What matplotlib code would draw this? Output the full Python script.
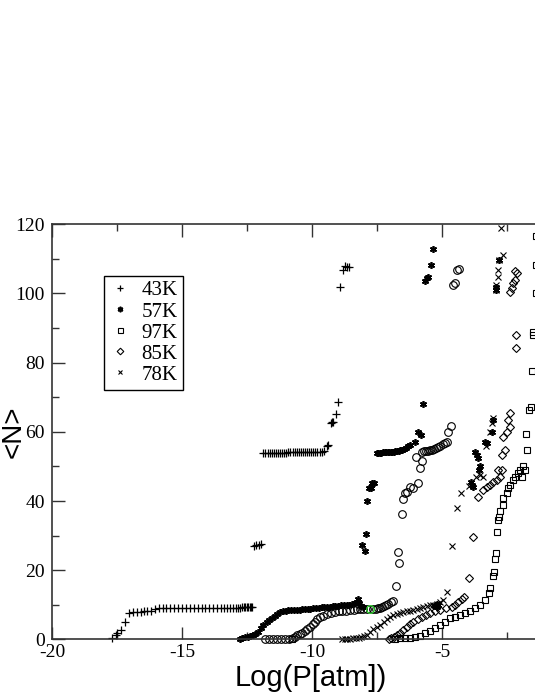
import matplotlib
matplotlib.use("Agg")
import matplotlib.pyplot as plt
from matplotlib.ticker import MultipleLocator

plt.rcParams["axes.unicode_minus"] = False
SERIF = "Liberation Serif"
SANS = "Liberation Sans"

# 43K (+)
x43 = [-17.70, -17.54, -17.49, -17.36, -17.18, -17.04, -16.90, -16.74, -16.59, -16.46, -16.33, -16.20, -16.05,
       -15.90, -15.75, -15.60, -15.45, -15.30, -15.15, -15.00, -14.85, -14.70, -14.55, -14.40, -14.25, -14.10,
       -13.95, -13.80, -13.65, -13.50, -13.38, -13.26, -13.14, -13.03, -12.93, -12.84, -12.76, -12.69, -12.62,
       -12.56, -12.50, -12.45, -12.40, -12.35, -12.30,
       -12.25, -12.15, -12.05, -11.95,
       -11.87, -11.79, -11.71, -11.63, -11.55, -11.47, -11.39, -11.31, -11.23, -11.15, -11.07, -10.99, -10.91,
       -10.83, -10.75, -10.67, -10.59, -10.51, -10.43, -10.35, -10.27, -10.19, -10.11, -10.03, -9.95, -9.87,
       -9.79, -9.71, -9.63, -9.55,
       -9.43, -9.38, -9.28, -9.23, -9.18, -9.08, -8.99, -8.92, -8.82, -8.73, -8.67, -8.57]
y43 = [0.5, 1.3, 2.0, 2.7, 5.1, 7.6, 7.9, 8.0, 8.0, 8.1, 8.1, 8.2, 8.7,
       9.0, 9.0, 9.0, 9.0, 9.0, 9.0, 9.0, 9.0, 9.0, 9.0, 9.0, 9.1, 9.1,
       9.1, 9.1, 9.1, 9.1, 9.1, 9.2, 9.2, 9.2, 9.2, 9.2, 9.2, 9.3, 9.3,
       9.3, 9.3, 9.3, 9.4, 9.4, 9.4,
       27.1, 27.3, 27.4, 27.6,
       54.0, 54.0, 54.0, 54.0, 54.0, 54.0, 54.0, 54.0, 54.0, 54.0, 54.0, 54.0, 54.1,
       54.1, 54.1, 54.1, 54.1, 54.1, 54.1, 54.1, 54.1, 54.2, 54.2, 54.2, 54.2, 54.2,
       54.3, 54.3, 54.3, 54.5,
       56.0, 56.2, 62.7, 62.8, 62.9, 65.1, 68.6, 101.8, 106.9, 107.8, 107.6, 107.6]

# 57K (*)
x57 = [-12.77, -12.68, -12.58, -12.48, -12.38, -12.28, -12.18, -12.07, -11.97, -11.87, -11.75, -11.64, -11.55,
       -11.43, -11.33, -11.23, -11.12, -11.01, -10.91, -10.80, -10.70, -10.59, -10.48, -10.38, -10.27, -10.16,
       -10.06, -9.95, -9.84, -9.73, -9.62, -9.52, -9.42, -9.31, -9.20, -9.10, -8.99, -8.88, -8.78, -8.67, -8.56,
       -8.45, -8.35, -8.28, -8.24, -8.18, -8.10, -8.03,
       -8.09, -7.95, -7.94, -7.87, -7.79, -7.72, -7.70, -7.62,
       -7.51, -7.45, -7.39, -7.33, -7.27, -7.21, -7.15, -7.09, -7.03, -6.97, -6.91, -6.85, -6.79, -6.73, -6.67,
       -6.60, -6.53, -6.45, -6.38, -6.30, -6.23, -6.04,
       -5.91, -5.82, -5.74, -5.65, -5.59, -5.53, -5.42, -5.36,
       -5.28, -5.22, -5.18, -5.14, -5.20,
       -3.86, -3.82, -3.90, -3.73, -3.67, -3.60, -3.54, -3.56, -3.28, -3.35, -3.09, -3.03,
       -2.80, -2.92, -2.92]
y57 = [0.2, 0.4, 0.6, 0.8, 1.0, 1.3, 1.7, 2.3, 3.2, 4.2, 5.0, 5.6, 6.1,
       6.8, 7.4, 7.8, 8.1, 8.3, 8.5, 8.5, 8.5, 8.6, 8.6, 8.7, 8.8, 8.9,
       8.9, 9.0, 9.1, 9.2, 9.3, 9.4, 9.5, 9.5, 9.6, 9.7, 9.8, 9.9, 10.0, 10.0, 10.1,
       10.2, 10.4, 10.9, 11.6, 10.5, 9.8, 9.5,
       27.3, 25.7, 30.4, 40.1, 43.7, 43.8, 45.2, 45.3,
       54.0, 54.0, 54.0, 54.0, 54.1, 54.1, 54.1, 54.2, 54.2, 54.2, 54.3, 54.3, 54.4, 54.5, 54.6,
       54.7, 54.9, 55.1, 55.4, 55.8, 56.3, 57.0,
       60.1, 59.1, 68.0, 103.5, 104.5, 104.9, 108.1, 112.9,
       9.7, 10.0, 10.3, 10.0, 9.5,
       44.7, 44.2, 45.5, 54.3, 53.4, 52.4, 50.0, 49.0, 56.7, 57.2, 60.1, 63.5,
       109.7, 102.0, 101.1]

# 97K (squares)
x97 = [-10.78,
       -6.81, -6.62, -6.42, -6.23, -6.04, -5.85, -5.65, -5.46, -5.27, -5.08, -4.88, -4.69, -4.50, -4.31, -4.12,
       -3.92, -3.73, -3.54, -3.35, -3.18, -3.15, -3.05, -2.99, -2.96, -2.92, -2.87, -2.84, -2.81, -2.77, -2.67,
       -2.64, -2.51, -2.45, -2.38, -2.26, -2.19, -2.06, -1.93, -2.00, -1.87, -1.81, -1.74, -1.77, -1.64, -1.59,
       -1.55, -1.51, -1.49, -1.38, -1.38, -1.38]
y97 = [0.1,
       0.0, 0.3, 0.3, 0.5, 0.8, 1.1, 1.8, 2.5, 3.2, 4.2, 5.1, 6.1, 6.6, 7.1, 7.6,
       8.3, 9.0, 10.0, 11.4, 13.5, 14.8, 18.4, 19.6, 23.2, 25.1, 31.0, 34.5, 35.5, 37.0, 38.9,
       40.8, 42.3, 43.7, 44.7, 46.1, 47.1, 48.1, 47.1, 49.0, 50.0, 49.0, 54.8, 59.4, 66.4, 67.1,
       77.6, 88.1, 89.0, 100.1, 108.3, 116.5]

# 85K (diamonds)
x85 = [-7.05, -6.95, -6.85, -6.72, -6.62, -6.49, -6.36, -6.23, -6.10, -5.94, -5.78, -5.62, -5.46, -5.27,
       -5.08, -4.86, -4.63, -4.50, -4.37, -4.25, -4.14,
       -3.96, -3.82, -3.60, -3.41, -3.28, -3.15, -3.03, -2.90, -2.77, -2.71, -2.83, -2.71, -2.58, -2.64,
       -2.51, -2.38, -2.45, -2.38, -2.15, -2.15, -2.38, -2.32, -2.26, -2.19, -2.13, -2.19]
y85 = [0.1, 0.3, 0.6, 1.4, 2.0, 2.8, 3.7, 4.4, 5.1, 5.9, 6.6, 7.1, 7.6, 8.1,
       8.5, 9.0, 9.5, 10.1, 10.9, 11.6, 12.4,
       17.9, 29.7, 41.3, 43.2, 44.2, 44.7, 45.6, 46.1, 47.1, 49.0, 49.0, 53.4, 54.8, 58.6,
       60.1, 61.5, 63.5, 65.4, 84.2, 88.1, 100.3, 101.6, 103.0, 104.0, 105.9, 106.4]

# 78K (x)
x78 = [-8.86, -8.75, -8.64, -8.53, -8.42, -8.31, -8.20, -8.10, -8.00, -7.90, -7.77, -7.64, -7.51, -7.38,
       -7.25, -7.12, -7.00, -6.87, -6.74, -6.62, -6.49, -6.36, -6.23, -6.10, -5.97, -5.85, -5.72, -5.59,
       -5.46, -5.33, -5.20, -5.08, -4.95,
       -4.80, -4.60, -4.43, -4.27,
       -3.95, -3.70, -3.55, -3.41, -3.30, -3.15, -3.09, -3.03,
       -2.92, -2.92, -2.86, -2.86, -2.80, -2.64, -2.73]
y78 = [0.1, 0.1, 0.2, 0.2, 0.3, 0.4, 0.5, 0.6, 0.9, 1.3, 2.3, 3.0, 3.7, 4.3,
       5.1, 5.9, 6.5, 7.1, 7.4, 7.6, 7.9, 8.1, 8.3, 8.5, 8.8, 9.1, 9.5, 9.7,
       9.9, 10.1, 10.3, 10.8, 11.4,
       13.8, 27.1, 37.9, 42.3,
       44.5, 47.0, 47.5, 47.1, 56.0, 60.1, 62.5, 64.0,
       101.1, 102.5, 104.9, 106.9, 109.7, 111.2, 118.9]

# unlabelled run (open circles)
xo = [-11.81, -11.65, -11.50, -11.35, -11.20, -11.05, -10.90, -10.75, -10.65, -10.56, -10.46, -10.37, -10.27,
      -10.18, -10.08, -9.98, -9.88, -9.79, -9.69, -9.56, -9.43, -9.28, -9.12, -8.97, -8.83, -8.68, -8.53,
      -8.40, -8.28, -8.16, -8.04, -7.90, -7.65, -7.55, -7.46, -7.38, -7.30, -7.22, -7.15, -7.07, -6.98, -6.87,
      -6.77, -6.70, -6.64, -6.55, -6.49, -6.42, -6.36, -6.23, -6.13, -5.91, -6.00, -5.85, -5.76,
      -5.78, -5.70, -5.62, -5.54, -5.46, -5.38, -5.30, -5.22, -5.14, -5.06, -4.98, -4.90, -4.82, -4.76, -4.67,
      -4.56, -4.50, -4.41, -4.33]
yo = [0.1, 0.1, 0.1, 0.1, 0.1, 0.2, 0.2, 0.4, 0.8, 1.2, 1.6, 2.0, 2.5,
      3.1, 3.7, 4.4, 5.1, 5.8, 6.4, 6.9, 7.4, 7.7, 8.0, 8.1, 8.2, 8.3, 8.5,
      8.6, 8.7, 8.7, 8.7, 8.8, 8.8, 8.9, 9.0, 9.1, 9.3, 9.6, 9.9, 10.3, 10.7, 11.1,
      15.5, 25.2, 22.0, 36.2, 40.6, 42.3, 42.7, 44.2, 43.7, 45.2, 52.6, 49.5, 51.6,
      54.3, 54.4, 54.5, 54.6, 54.7, 54.8, 55.0, 55.3, 55.6, 56.0, 56.4, 56.8, 57.2, 60.1, 61.8,
      102.5, 103.0, 106.7, 107.1]

x_green = [-7.77]
y_green = [8.8]

x_major = [-20, -15, -10, -5]

fig = plt.figure(figsize=(5.35, 6.92), dpi=100, facecolor="white")
ax = fig.add_axes([0.0972, 0.0759, 0.972, 0.6])

kw = dict(linestyle="none", color="black", clip_on=False)
h43, = ax.plot(x43, y43, marker="+", markersize=5.5, markeredgewidth=0.9, label="43K", **kw)
h57, = ax.plot(x57, y57, marker=(6, 2, 0), markersize=5, markeredgewidth=1.2, label="57K", **kw)
h97, = ax.plot(x97, y97, marker="s", markersize=4.5, markerfacecolor="none", markeredgewidth=0.8, label="97K", **kw)
h85, = ax.plot(x85, y85, marker="D", markersize=4.2, markerfacecolor="none", markeredgewidth=0.8, label="85K", **kw)
h78, = ax.plot(x78, y78, marker="x", markersize=3.8, markeredgewidth=0.8, label="78K", **kw)
ax.plot(xo, yo, marker="o", markersize=5.5, markerfacecolor="none", markeredgewidth=0.8, **kw)
ax.plot(x_green, y_green, marker="o", markersize=5.5, markerfacecolor="none", markeredgecolor="#22cc22",
        markeredgewidth=0.9, linestyle="none", clip_on=False)

ax.set_xlim(-20, 0)
ax.set_ylim(0, 120)
ax.set_xticks(x_major)
ax.xaxis.set_minor_locator(MultipleLocator(2.5))
ax.yaxis.set_major_locator(MultipleLocator(20))
ax.yaxis.set_minor_locator(MultipleLocator(10))
ax.tick_params(which="both", direction="in", top=True, right=True, color="#333333", width=1)
ax.tick_params(which="major", length=9)
ax.tick_params(which="minor", length=5)
ax.tick_params(axis="x", pad=3)
ax.tick_params(axis="y", pad=5)
for lab in ax.get_xticklabels() + ax.get_yticklabels():
    lab.set_fontfamily(SERIF)
    lab.set_fontsize(14)
for sp in ax.spines.values():
    sp.set_color("#333333")
    sp.set_linewidth(1.2)

fig.text(14 / 535, 1 - 432 / 692, "<N>", rotation=90, ha="center", va="center",
         fontsize=20, fontfamily=SANS)
fig.text(311 / 535, 1 - 686 / 692, "Log(P[atm])", ha="center", va="baseline",
         fontsize=21, fontfamily=SANS)

leg = ax.legend(handles=[h43, h57, h97, h85, h78], loc="upper left",
                bbox_to_anchor=(104 / 535, 1 - 275.7 / 692), bbox_transform=fig.transFigure,
                prop={"family": SERIF, "size": 15}, frameon=True, fancybox=False, shadow=False,
                framealpha=1, edgecolor="black", borderpad=0.25, labelspacing=0.07,
                handlelength=1.0, handletextpad=0.55, borderaxespad=0, markerscale=0.8)
leg.get_frame().set_linewidth(1.0)

fig.savefig("out.png", dpi=100, facecolor="white")
